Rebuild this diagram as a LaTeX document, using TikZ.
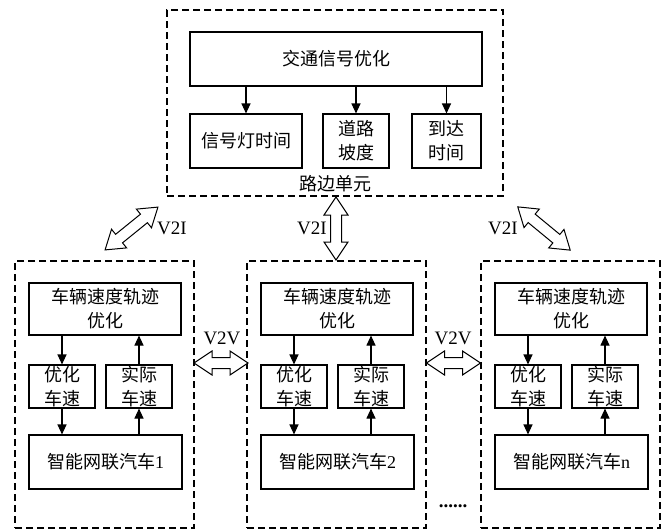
\documentclass[tikz,border=0pt]{standalone}
\usepackage{fontspec}
\setmainfont{Liberation Serif}
\newfontfamily\cjk{Noto Sans CJK SC}
\usetikzlibrary{arrows.meta}
\newcommand\mydblarrow[4]{%
  \begin{scope}[shift={(#1,#2)},rotate=#3]
    \pgfmathsetmacro\hL{#4/2}
    \pgfmathsetmacro\iL{#4/2-18}
    \draw[dblarr] (-\hL,0) -- (-\iL,12) -- (-\iL,5.5) -- (\iL,5.5) -- (\iL,12) -- (\hL,0)
      -- (\iL,-12) -- (\iL,-5.5) -- (-\iL,-5.5) -- (-\iL,-12) -- cycle;
  \end{scope}}
\begin{document}
\begin{tikzpicture}[x=1pt,y=-1pt,
  box/.style={draw,line width=1.1pt,inner sep=0pt,align=center,font=\cjk\fontsize{18}{24}\selectfont},
  dbox/.style={draw,line width=1.1pt,dash pattern=on 7pt off 4pt,inner sep=0pt},
  arr/.style={line width=1.1pt,-{Triangle[length=10pt,width=9pt]}},
  dblarr/.style={line width=1pt,line join=miter,fill=white},
  lbl/.style={font=\fontsize{19}{22}\selectfont,inner sep=0pt},
  cjklbl/.style={font=\cjk\fontsize{18}{22}\selectfont,inner sep=0pt}
]
\useasboundingbox (0,0) rectangle (666,531);
% roadside unit
\node[dbox,minimum width=336pt,minimum height=186pt] (rsu) at (335,103) {};
\node[box,minimum width=292pt,minimum height=54pt] (sig) at (336,59) {交通信号优化};
\node[box,minimum width=112pt,minimum height=54pt] (t1) at (246,141) {信号灯时间};
\node[box,minimum width=66pt,minimum height=54pt] (t2) at (356,141) {道路\\坡度};
\node[box,minimum width=69pt,minimum height=54pt] (t3) at (446.5,141) {到达\\时间};
\foreach \t in {t1,t2,t3}{\draw[arr] (sig.south -| \t.north) -- (\t.north);}
\node[cjklbl] (rsulbl) at (335,184) {路边单元};
% vehicles
\foreach \X/\n/\t in {15/1/1,247/2/2,481/3/n}{
  \node[dbox,minimum width=179pt,minimum height=267pt] (veh\n) at (\X+89.5,394.5) {};
  \node[box,minimum width=152pt,minimum height=52pt] (opt\n) at (\X+90,309) {车辆速度轨迹\\优化};
  \node[box,minimum width=66pt,minimum height=43pt] (os\n) at (\X+47,386.5) {优化\\车速};
  \node[box,minimum width=66pt,minimum height=43pt] (as\n) at (\X+124,386.5) {实际\\车速};
  \node[box,minimum width=153pt,minimum height=54pt] (car\n) at (\X+90.5,462) {智能网联汽车{\rmfamily\t}};
  \draw[arr] (opt\n.south -| os\n.north) -- (os\n.north);
  \draw[arr] (os\n.south) -- (car\n.north -| os\n.south);
  \draw[arr] (car\n.north -| as\n.south) -- (as\n.south);
  \draw[arr] (as\n.north) -- (opt\n.south -| as\n.north);
}
% V2I arrows
\mydblarrow{131.5}{228.5}{39}{68}
\mydblarrow{336}{228.5}{90}{63}
\mydblarrow{544}{228.5}{-39.5}{68}
\node[lbl] (l1) at (172,228) {V2I};
\node[lbl] (l2) at (312,228) {V2I};
\node[lbl] (l3) at (503,228) {V2I};
% V2V arrows
\mydblarrow{221}{363}{0}{54}
\mydblarrow{453.5}{363}{0}{54}
\node[lbl] (m1) at (222,338) {V2V};
\node[lbl] (m2) at (453,338) {V2V};
\node[lbl] (dots) at (453,506) {\textbf{......}};
\end{tikzpicture}
\end{document}
